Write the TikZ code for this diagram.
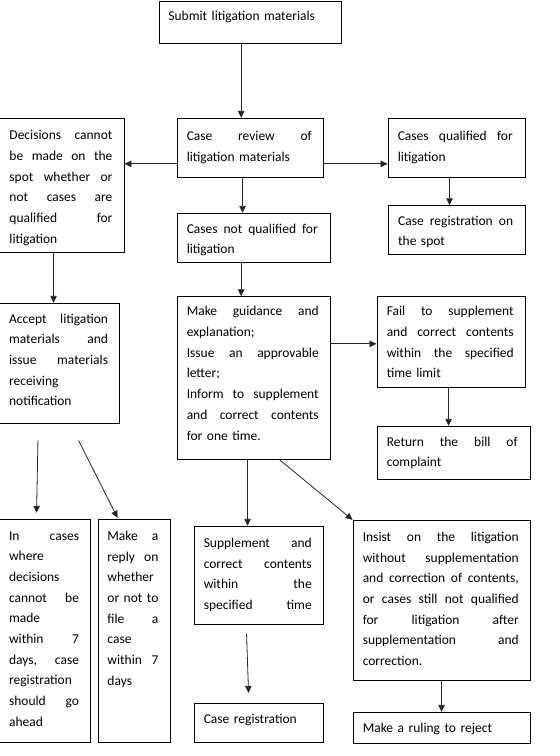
\documentclass[tikz,border=0pt]{standalone}
\usepackage{fontspec}
\setmainfont{Carlito}
\usetikzlibrary{arrows.meta,fit,calc}
\newlength\jw
\newcommand\jl[1]{\leavevmode\hbox to\jw{\spaceskip=0.226em plus 1fil\xspaceskip=0.226em plus 1fil\relax#1}}
\newcommand\fs{\rule{0pt}{9pt}}
\begin{document}
\begin{tikzpicture}[x=1pt,y=-1pt,
  boxst/.style={draw=black, line width=0.9pt, inner sep=0pt},
  txt/.style={inner sep=0pt, anchor=north west, align=left, font={\fontsize{13.5pt}{20.7pt}\selectfont\parindent=0pt}},
  tw/.style={text width=#1pt, execute at begin node={\setlength\jw{#1pt}}},
  arr/.style={draw=black!85, line width=0.8pt, -{Triangle[length=7pt,width=6.5pt]}},
]
\useasboundingbox (0,0) rectangle (560,756);
% boxes
\node[boxst, fit={(159,1) (341,43)}] (sub) {};
\node[boxst, fit={(177,118.3) (323,177)}] (rev) {};
\node[boxst, fit={(-2,118.3) (124,252.3)}] (dec) {};
\node[boxst, fit={(388,118.3) (525,177)}] (qual) {};
\node[boxst, fit={(388,205.7) (525,254.3)}] (spot) {};
\node[boxst, fit={(177,213.3) (330,262.7)}] (notq) {};
\node[boxst, fit={(177,296.7) (330,459.3)}] (guide) {};
\node[boxst, fit={(377,296.7) (525,387)}] (fail) {};
\node[boxst, fit={(377,426.3) (530,479.3)}] (ret) {};
\node[boxst, fit={(-2,303.3) (119,423.3)}] (acc) {};
\node[boxst, fit={(-2,519.3) (90,742.3)}] (inc) {};
\node[boxst, fit={(98,519.3) (170,742.3)}] (rep) {};
\node[boxst, fit={(194,526.3) (323,624.3)}] (sup) {};
\node[boxst, fit={(353,520.3) (530,680.3)}] (ins) {};
\node[boxst, fit={(194,703.3) (323,742.3)}] (reg) {};
\node[boxst, fit={(353,712.3) (530,743.3)}] (rej) {};
% texts
\node[txt, tw=160] (sub-t) at ([xshift=9.7pt,yshift=-10.5pt]sub.north west) {\fs Submit litigation materials};
\node[txt, tw=125] (rev-t) at ([xshift=10pt,yshift=-13pt]rev.north west) {\fs\jl{Case review of}\\litigation materials};
\node[txt, tw=103] (dec-t) at ([xshift=11.7pt,yshift=-12.5pt]dec.north west) {\fs\jl{Decisions cannot}\\\jl{be made on the}\\\jl{spot whether or}\\\jl{not cases are}\\\jl{qualified for}\\litigation};
\node[txt, tw=115] (qual-t) at ([xshift=10pt,yshift=-13pt]qual.north west) {\fs\jl{Cases qualified for}\\litigation};
\node[txt, tw=115] (spot-t) at ([xshift=10.4pt,yshift=-10.3pt]spot.north west) {\fs\jl{Case registration on}\\the spot};
\node[txt, tw=131] (notq-t) at ([xshift=10pt,yshift=-10.7pt]notq.north west) {\fs\jl{Cases not qualified for}\\litigation};
\node[txt, tw=132] (guide-t) at ([xshift=10pt,yshift=-10pt]guide.north west) {\fs\jl{Make guidance and}\\explanation;\\\jl{Issue an approvable}\\letter;\\\jl{Inform to supplement}\\\jl{and correct contents}\\for one time.};
\node[txt, tw=127] (fail-t) at ([xshift=10pt,yshift=-10pt]fail.north west) {\fs\jl{Fail to supplement}\\\jl{and correct contents}\\\jl{within the specified}\\time limit};
\node[txt, tw=131] (ret-t) at ([xshift=10pt,yshift=-10.7pt]ret.north west) {\fs\jl{Return the bill of}\\complaint};
\node[txt, tw=99] (acc-t) at ([xshift=11.3pt,yshift=-10.7pt]acc.north west) {\fs\jl{Accept litigation}\\\jl{materials and}\\\jl{issue materials}\\receiving\\notification};
\node[txt, tw=70] (inc-t) at ([xshift=11.3pt,yshift=-12pt]inc.north west) {\fs\jl{In cases}\\where\\decisions\\\jl{cannot be}\\made\\\jl{within 7}\\\jl{days, case}\\registration\\\jl{should go}\\ahead};
\node[txt, tw=51] (rep-t) at ([xshift=9.7pt,yshift=-12pt]rep.north west) {\fs\jl{Make a}\\\jl{reply on}\\whether\\\jl{or not to}\\\jl{file a}\\case\\\jl{within 7}\\days};
\node[txt, tw=108] (sup-t) at ([xshift=10pt,yshift=-12pt]sup.north west) {\fs\jl{Supplement and}\\\jl{correct contents}\\\jl{within the}\\\jl{specified time}};
\node[txt, tw=156] (ins-t) at ([xshift=10pt,yshift=-12pt]ins.north west) {\fs\jl{Insist on the litigation}\\\jl{without supplementation}\\\jl{and correction of contents,}\\\jl{or cases still not qualified}\\\jl{for litigation after}\\\jl{supplementation and}\\correction.};
\node[txt, tw=108] (reg-t) at ([xshift=10pt,yshift=-11.5pt]reg.north west) {\fs Case registration};
\node[txt, tw=156] (rej-t) at ([xshift=10pt,yshift=-11pt]rej.north west) {\fs Make a ruling to reject};
% arrows
\coordinate (a1s) at ([xshift=82.6pt]sub.south west);
\draw[arr] (a1s) -- (a1s |- rev.north);
\coordinate (a2s) at ([yshift=-46pt]rev.north west);
\draw[arr] (a2s) -- (a2s -| dec.east);
\coordinate (a3s) at ([yshift=-46pt]rev.north east);
\draw[arr] (a3s) -- (a3s -| qual.west);
\coordinate (a4s) at ([xshift=66pt]rev.south west);
\draw[arr] (a4s) -- (a4s |- notq.north);
\coordinate (a5s) at ([xshift=62pt]qual.south west);
\draw[arr] (a5s) -- (a5s |- spot.north);
\coordinate (a6s) at ([xshift=56pt]dec.south west);
\draw[arr] (a6s) -- (a6s |- acc.north);
\coordinate (a7s) at ([xshift=64.6pt]notq.south west);
\draw[arr] (a7s) -- (a7s |- guide.north);
\coordinate (a8s) at ([yshift=-47.6pt]guide.north east);
\draw[arr] (a8s) -- (a8s -| fail.west);
\coordinate (a9s) at ([xshift=72pt]fail.south west);
\draw[arr] (a9s) -- (a9s |- ret.north);
\coordinate (a10s) at ([xshift=40.4pt,yshift=-16.7pt]acc.south west);
\coordinate (a10e) at ([xshift=39pt,yshift=6pt]inc.north west);
\draw[arr] (a10s) -- (a10e);
\coordinate (a11s) at ([xshift=81pt,yshift=-16.7pt]acc.south west);
\coordinate (a11e) at ([xshift=20pt,yshift=1pt]rep.north west);
\draw[arr] (a11s) -- (a11e);
\coordinate (a12s) at ([xshift=71pt]guide.south west);
\draw[arr] (a12s) -- (a12s |- sup.north);
\coordinate (a13s) at ([xshift=103pt]guide.south west);
\draw[arr] (a13s) -- (ins.north west);
\coordinate (a14s) at ([xshift=53pt,yshift=-9pt]sup.south west);
\coordinate (a14e) at ([xshift=55pt,yshift=10pt]reg.north west);
\draw[arr] (a14s) -- (a14e);
\coordinate (a15s) at ([xshift=89pt]ins.south west);
\draw[arr] (a15s) -- (a15s |- rej.north);
\end{tikzpicture}
\end{document}
